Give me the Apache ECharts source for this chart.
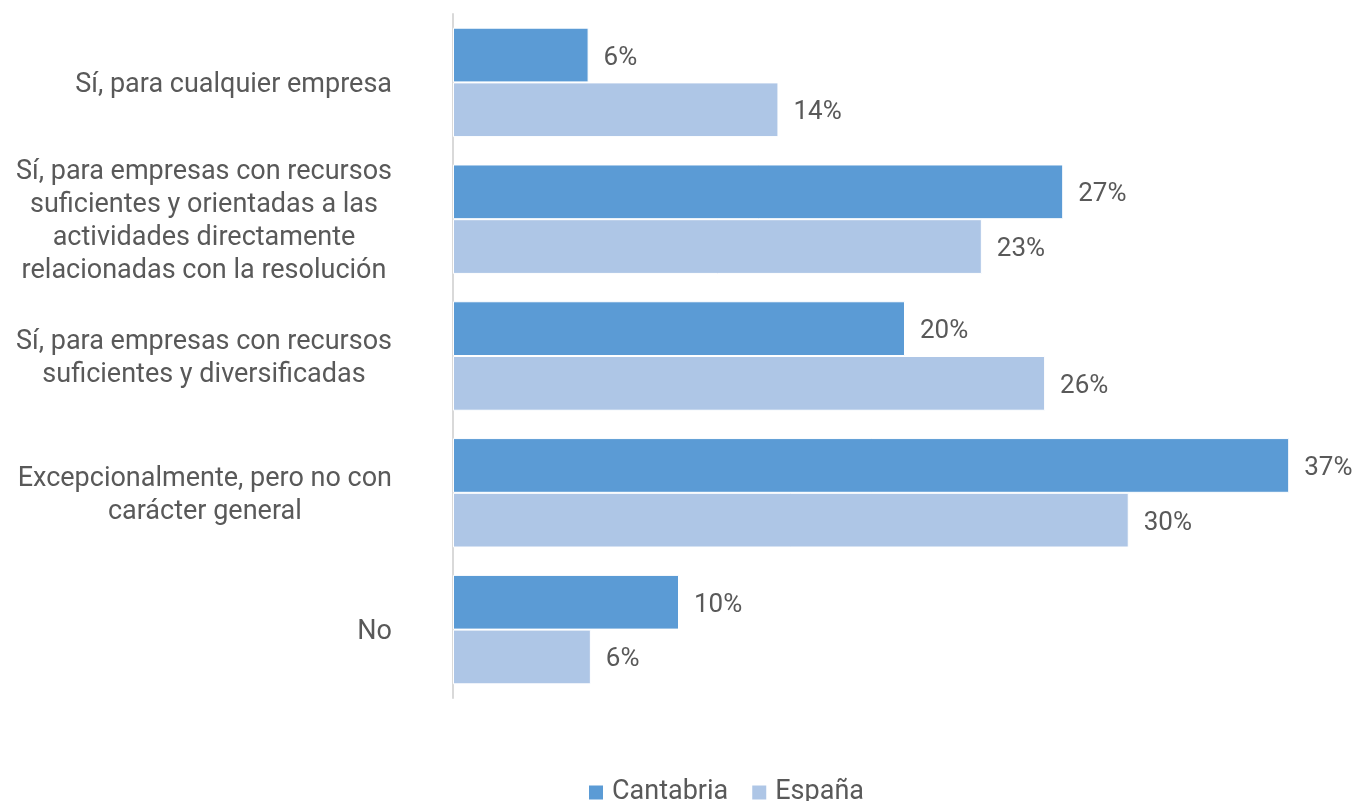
<!DOCTYPE html>
<html>
<head>
<meta charset="utf-8">
<script src="https://cdn.jsdelivr.net/npm/echarts@6/dist/echarts.min.js"></script>
<style>html,body{margin:0;padding:0;background:#fff}#c{width:1359px;height:801px}</style>
</head>
<body>
<div id="c"></div>
<script>
var categories = [
  "Sí, para cualquier empresa",
  "Sí, para empresas con recursos\nsuficientes y orientadas a las\nactividades directamente\nrelacionadas con la resolución",
  "Sí, para empresas con recursos\nsuficientes y diversificadas",
  "Excepcionalmente, pero no con\ncarácter general",
  "No"
];
var seriesNames = ["Cantabria", "España"];
var cantabria = [6.0, 27.0, 20.0, 37.0, 10.0];
var espana = [14.4, 23.4, 26.2, 29.9, 6.1];

var font = "Roboto";
var txt = "#595959";
var chart = echarts.init(document.getElementById('c'));
function lbl() {
  return {show: true, position: 'right', distance: 15, offset: [0, 3], color: txt, fontFamily: font, fontSize: 26,
    formatter: function(p){ return Math.round(p.value) + '%'; }};
}
chart.setOption({
  animation: false,
  grid: {left: 453, top: 14, height: 684, right: 2, containLabel: false},
  legend: {top: 774, left: 582, itemWidth: 16, itemHeight: 16, itemGap: 22,
    icon: 'rect', textStyle: {color: txt, fontFamily: font, fontSize: 27, padding: [0, 0, 0, 3]},
    data: seriesNames},
  xAxis: {type: 'value', min: 0, max: 40, show: false},
  yAxis: {type: 'category', inverse: true, data: categories,
    axisLine: {show: true, lineStyle: {color: '#d9d9d9', width: 2}},
    axisTick: {show: false},
    axisLabel: {margin: 61, align: 'right', padding: [6, 0, 0, 0],
      formatter: function(v){ return v.split('\n').map(function(l){ return '{c|' + l + '}'; }).join('\n'); },
      rich: {c: {align: 'center', color: txt, fontFamily: font, fontSize: 27, lineHeight: 33}}}},
  series: [
    {name: seriesNames[0], type: 'bar', data: cantabria, barGap: '0%', barCategoryGap: '20%',
     itemStyle: {color: '#5B9BD5', borderColor: '#ffffff', borderWidth: 1}, label: lbl()},
    {name: seriesNames[1], type: 'bar', data: espana, barGap: '0%', barCategoryGap: '20%',
     itemStyle: {color: '#AEC6E6', borderColor: '#ffffff', borderWidth: 1}, label: lbl()}
  ]
});
</script>
</body>
</html>
